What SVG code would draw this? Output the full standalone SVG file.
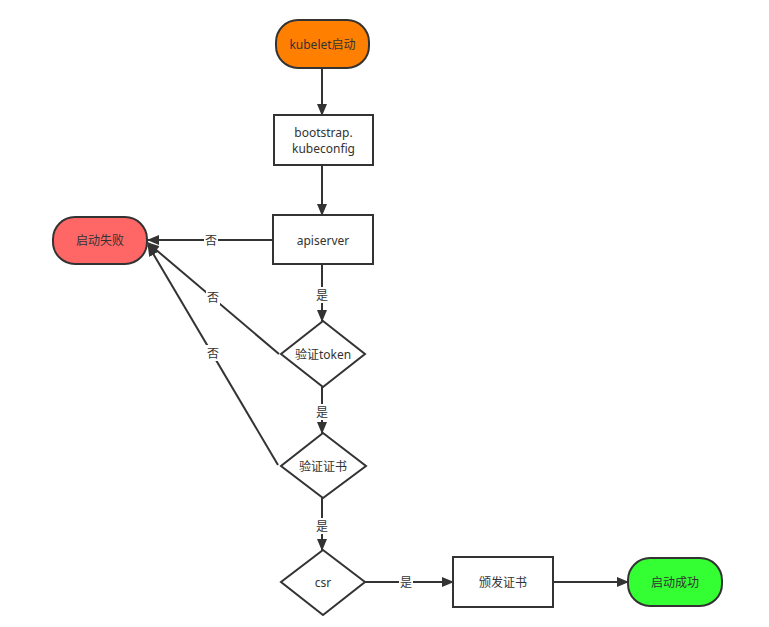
<svg xmlns="http://www.w3.org/2000/svg" width="769" height="627" viewBox="0 0 769 627">
<style>
.n{stroke:#333;stroke-width:2}
.w{fill:#fff}
.t{font-family:"Noto Sans","Noto Sans CJK SC",sans-serif;font-size:12px;fill:#333;text-anchor:middle;dominant-baseline:central}
.e{fill:none;stroke:#333;stroke-width:2}
.lb{fill:#fff}
</style>
<defs>
<marker id="a" markerUnits="userSpaceOnUse" markerWidth="12" markerHeight="10" refX="11" refY="5" orient="auto">
<path d="M0,0 L12,5 L0,10 Z" fill="#333"/>
</marker>
</defs>
<rect width="769" height="627" fill="#fff"/>
<g id="connectors">
<path class="e" d="M322,68 L322,115" marker-end="url(#a)"/>
<path class="e" d="M322,165 L322,215" marker-end="url(#a)"/>
<path class="e" d="M273,240 L148,240" marker-end="url(#a)"/>
<path class="e" d="M322,264 L322,321" marker-end="url(#a)"/>
<path class="e" d="M279,354 L148,243" marker-end="url(#a)"/>
<path class="e" d="M322,387 L322,433" marker-end="url(#a)"/>
<path class="e" d="M278,465 L148,245" marker-end="url(#a)"/>
<path class="e" d="M322,498 L322,550" marker-end="url(#a)"/>
<path class="e" d="M365,582 L453,582" marker-end="url(#a)"/>
<path class="e" d="M553,582 L628,582" marker-end="url(#a)"/>
<rect class="lb" x="204" y="232" width="14" height="16"/>
<text class="t" x="211" y="240">否</text>
<rect class="lb" x="206" y="289" width="14" height="16"/>
<text class="t" x="213" y="297">否</text>
<rect class="lb" x="206" y="345" width="14" height="16"/>
<text class="t" x="213" y="353">否</text>
<rect class="lb" x="315" y="287" width="14" height="16"/>
<text class="t" x="322" y="295">是</text>
<rect class="lb" x="315" y="404" width="14" height="16"/>
<text class="t" x="322" y="412">是</text>
<rect class="lb" x="315" y="518" width="14" height="16"/>
<text class="t" x="322" y="526">是</text>
<rect class="lb" x="399" y="574" width="14" height="16"/>
<text class="t" x="406" y="582">是</text>
</g>
<g id="kubelet">
<rect class="n" x="276" y="20" width="93" height="48" rx="22" fill="#FF8000"/>
<text class="t" x="322.5" y="44">kubelet启动</text>
</g>
<g id="bootstrap">
<rect class="n w" x="274" y="115" width="99" height="50"/>
<text class="t" x="323.5" y="132">bootstrap.</text>
<text class="t" x="323.5" y="148">kubeconfig</text>
</g>
<g id="apiserver">
<rect class="n w" x="273" y="215" width="100" height="49"/>
<text class="t" x="323" y="240">apiserver</text>
</g>
<g id="fail">
<rect class="n" x="53" y="217" width="94" height="47" rx="22" fill="#FF6666"/>
<text class="t" x="100" y="240">启动失败</text>
</g>
<g id="token">
<path class="n w" d="M323,321 L365,354 L323,387 L281,354 Z"/>
<text class="t" x="323" y="354">验证token</text>
</g>
<g id="cert">
<path class="n w" d="M323,433 L366,466 L323,498 L281,466 Z"/>
<text class="t" x="323" y="466">验证证书</text>
</g>
<g id="csr">
<path class="n w" d="M323,550 L365,582 L323,615 L281,582 Z"/>
<text class="t" x="323" y="582">csr</text>
</g>
<g id="issue">
<rect class="n w" x="453" y="557" width="100" height="50"/>
<text class="t" x="503" y="582">颁发证书</text>
</g>
<g id="success">
<rect class="n" x="628" y="558" width="94" height="48" rx="22" fill="#33FF33"/>
<text class="t" x="675" y="582">启动成功</text>
</g>
</svg>
